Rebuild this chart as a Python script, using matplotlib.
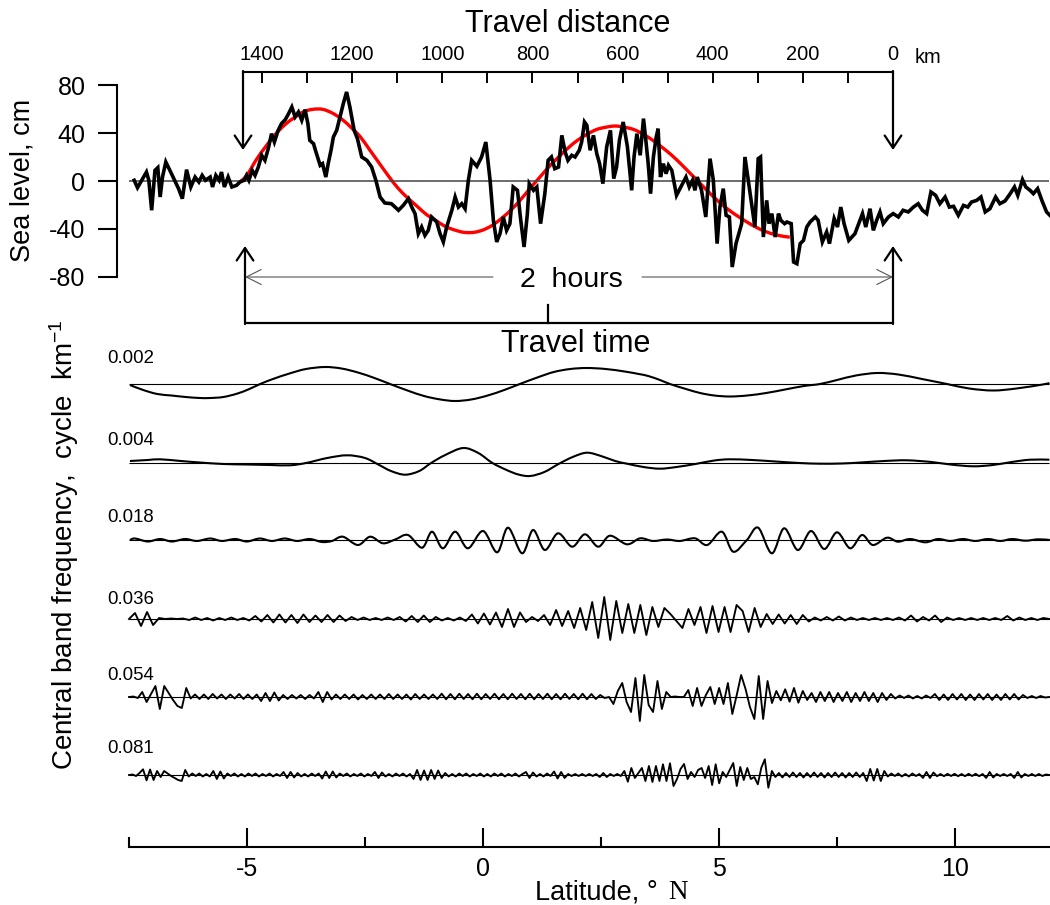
import numpy as np
import matplotlib
matplotlib.use("Agg")
import matplotlib.pyplot as plt
from matplotlib.path import Path
from matplotlib.patches import PathPatch

plt.rcParams['font.family'] = 'Liberation Sans'
plt.rcParams['axes.unicode_minus'] = False
plt.rcParams['mathtext.fontset'] = 'custom'
plt.rcParams['mathtext.rm'] = 'Liberation Sans'
plt.rcParams['mathtext.it'] = 'Liberation Sans:italic'

# ---- sea level along the track (latitude, cm) ----
sea_lat = [-7.39, -7.32, -7.23, -7.13, -7.08, -7.02, -6.95, -6.89, -6.84, -6.79, -6.72, -6.60, -6.45, -6.37,
           -6.28, -6.19, -6.10, -6.02, -5.95, -5.88, -5.78, -5.73, -5.66, -5.59, -5.54, -5.48, -5.40, -5.32,
           -5.22, -5.15, -5.06, -5.01, -4.96, -4.89, -4.83, -4.76, -4.69, -4.62, -4.55, -4.48, -4.42, -4.34,
           -4.27, -4.19, -4.12, -4.05, -3.98, -3.91, -3.84, -3.77, -3.71, -3.67, -3.59, -3.55, -3.45, -3.40,
           -3.33, -3.28, -3.22, -3.17, -3.10, -3.03, -2.96, -2.89, -2.82, -2.73, -2.66, -2.57, -2.46, -2.36,
           -2.27, -2.18, -2.08, -1.94, -1.79, -1.69, -1.58, -1.51, -1.44, -1.37, -1.30, -1.23, -1.16, -1.09,
           -0.98, -0.91,
           -0.84, -0.77, -0.66, -0.59, -0.52, -0.45, -0.38, -0.31, -0.24, -0.13, -0.03, 0.06, 0.15, 0.22,
           0.29, 0.36, 0.43, 0.50, 0.57, 0.64, 0.73, 0.80, 0.87, 0.94, 0.98, 1.07, 1.14, 1.22, 1.31, 1.38,
           1.45, 1.52, 1.60, 1.67, 1.74, 1.80, 1.88, 1.95, 2.04, 2.09, 2.15, 2.20, 2.27, 2.34, 2.41, 2.47,
           2.54, 2.62, 2.70, 2.77, 2.83, 2.89, 2.97, 3.06, 3.15, 3.20, 3.26, 3.33, 3.40, 3.45, 3.50, 3.55,
           3.61, 3.67, 3.71, 3.76, 3.82, 3.88, 3.93, 4.00, 4.10, 4.21, 4.30, 4.37, 4.44, 4.49, 4.54, 4.63,
           4.72, 4.81, 4.88, 4.96, 5.02, 5.09, 5.15, 5.22, 5.28, 5.36, 5.48, 5.55, 5.66,
           5.76, 5.83, 5.88, 5.94, 6.01, 6.06, 6.12, 6.19, 6.26, 6.31, 6.39, 6.44, 6.53, 6.58, 6.65, 6.72,
           6.79, 6.86, 6.93, 7.04, 7.10, 7.19, 7.28, 7.34, 7.44, 7.51, 7.58, 7.65, 7.75, 7.88, 8.04, 8.11,
           8.20, 8.27, 8.34, 8.41, 8.48, 8.59, 8.69, 8.80, 8.90, 9.01, 9.12, 9.22, 9.31, 9.40, 9.49, 9.59,
           9.68, 9.79, 9.88, 9.97, 10.07, 10.18, 10.27, 10.35, 10.46, 10.55, 10.64, 10.74, 10.86, 10.95,
           11.06, 11.17, 11.26, 11.33, 11.43, 11.50, 11.59, 11.66, 11.75, 11.84, 11.94, 12.01]
sea_cm = [0.6, -5.6, 0.6, 7.5, 0.6, -24.5, 8.9, 11.2, -13.4, 3.3, 15.9, 6.1, -6.4, -14.8,
          9.5, -5.0, 3.3, -0.8, 4.7, 0.6, 3.3, -5.0, 4.7, 0.6, 7.5, -5.0, 3.3, -5.0,
          -3.6, -0.8, 0.6, 4.7, 0.6, 8.9, 4.7, 11.7, 21.5, 17.3, 27.1, 39.6, 32.6, 42.4,
          48.0, 51.3, 56.3, 61.9, 53.6, 57.7, 50.8, 59.7, 48.0, 34.0, 31.2, 25.7, 13.1, 14.5,
          3.3, 14.5, 25.7, 36.8, 42.4, 53.6, 64.7, 74.5, 61.9, 42.4, 35.4, 20.1, 17.3, 11.7,
          0.6, -13.4, -18.4, -19.0, -24.5, -20.4, -14.8, -21.8, -27.3, -44.1, -38.5, -45.5, -41.3, -30.1,
          -34.3, -44.1,
          -51.0, -38.5, -24.5, -13.4, -21.8, -19.0, -23.2, 0.6, 17.3, 12.3, 20.1, 32.6, 0.6, -32.9,
          -51.0, -44.1, -30.1, -41.3, -35.7, -5.0, -7.8, -32.9, -55.2, -27.3, -2.2, -7.8, -5.0, -35.7, -10.6, 17.3,
          20.1, 10.3, 11.7, 38.2, 24.3, 17.3, 21.5, 20.1, 25.7, 32.6, 49.4, 46.6, 25.7, 38.2, 22.9, 14.5,
          -2.2, 28.5, 42.4, 2.0, 11.7, 34.0, 49.4, 28.5, -7.8, 20.1, 39.6, 21.5, 52.2, 34.0, 14.5, -10.6,
          20.1, 36.8, 43.8, 3.3, 14.5, 6.1, 13.1, 8.9, -12.0, -3.6, 3.3, -5.0, 0.6, -7.8, 3.3, -7.8,
          -30.1, 18.7, 0.6, -52.4, -21.8, -6.4, -28.7, -30.1, -72.0, -52.4, -35.7, 20.1, -10.6,
          -38.5, 18.7, 20.1, -46.9, -16.2, -35.7, -27.3, -46.9, -27.3, -32.9, -35.7, -34.3, -35.7, -67.8, -69.2, -52.4,
          -49.7, -38.5, -34.3, -30.1, -32.9, -51.0, -42.7, -52.4, -31.5, -38.5, -21.8, -35.7, -49.7, -44.1, -27.3, -38.5,
          -23.2, -41.3, -32.9, -25.9, -35.7, -30.1, -27.3, -30.1, -24.5, -25.9, -21.8, -19.0, -24.5, -27.3, -9.2, -12.0,
          -19.0, -13.4, -21.8, -21.2, -28.7, -20.4, -21.8, -17.6, -16.2, -13.4, -25.9, -23.2, -13.4, -19.0,
          -16.7, -10.6, -5.0, -12.0, 1.1, -5.0, -7.8, -10.6, -6.4, -16.2, -25.9, -28.7]

# fitted wave (red)
fit_lat = [-5.18, -5.0, -4.8, -4.6, -4.4, -4.2, -4.0, -3.8, -3.6, -3.4, -3.2, -3.0, -2.8, -2.6, -2.4,
           -2.2, -2.0, -1.8, -1.6, -1.4, -1.2, -1.0, -0.8, -0.6, -0.4, -0.2, 0.0, 0.2, 0.4, 0.6,
           0.8, 1.0, 1.2, 1.4, 1.6, 1.8, 2.0, 2.2, 2.4, 2.6, 2.8, 3.0, 3.2, 3.4, 3.6,
           3.8, 4.0, 4.2, 4.4, 4.6, 4.8, 5.0, 5.2, 5.4, 5.6, 5.8, 6.0, 6.2, 6.4, 6.5]
fit_cm = [-2, 5, 18, 29, 39, 47, 53, 58, 60, 60, 57, 52, 45, 37, 26,
          15, 4, -6, -14, -21, -28, -33, -38, -41, -43, -43, -41, -37, -31, -24,
          -15.5, -6, 3, 12, 20, 27.5, 34, 39, 43, 45, 46, 45, 43, 39, 34,
          28, 21.5, 14, 6, -2, -10, -17.5, -24, -29.5, -34.5, -39, -42.5, -45, -46.5, -47]

# ---- band-pass components (relative amplitude) ----
band_names = ["0.002", "0.004", "0.018", "0.036", "0.054", "0.081"]

lat_002 = [-7.48, -7.2, -6.9, -6.6, -6.3, -6.0, -5.78, -5.5, -5.2, -4.95, -4.72, -4.45, -4.1, -3.75, -3.35,
           -3.0, -2.65, -2.3, -1.97, -1.6, -1.25, -0.9, -0.59, -0.25, 0.1, 0.45, 0.78, 1.15, 1.5, 1.85,
           2.2, 2.6, 3.0, 3.3, 3.5, 3.75, 3.96, 4.3, 4.6, 4.9, 5.23, 5.6, 6.0, 6.4, 6.8,
           7.14, 7.5, 7.9, 8.35, 8.8, 9.3, 9.83, 10.3, 10.81, 11.3, 11.86, 12.0]
amp_002 = [-1, -6, -10, -11.5, -13, -14, -14, -13, -9.5, -5, 0, 5, 10.5, 15, 17,
           15.5, 11.5, 6, 0, -6.5, -12, -15.5, -17, -15.5, -11.5, -6, 0, 6.5, 12, 15,
           16, 15, 12.5, 10, 8, 4, 0, -5, -9, -11.5, -12.5, -11.5, -9, -5.5, -2,
           0, 4, 8.5, 11, 9.5, 5, 0, -4.5, -6.5, -4.5, -0.5, 1]

lat_004 = [-7.48, -7.1, -6.84, -6.4, -6.0, -5.5, -5.0, -4.5, -4.09, -3.75, -3.3, -2.88, -2.5, -2.2, -1.95,
           -1.65, -1.35, -1.1, -0.8, -0.42, -0.1, 0.2, 0.5, 0.75, 1.0, 1.3, 1.6, 1.9, 2.2, 2.5,
           2.8, 3.05, 3.4, 3.75, 4.1, 4.5, 4.9, 5.23, 5.7, 6.2, 6.7, 7.14, 7.6, 8.0, 8.5,
           8.98, 9.5, 9.9, 10.38, 10.8, 11.2, 11.59, 12.0]
amp_004 = [2, 3, 3.7, 2, 0.5, -1, -1.5, -2, -2.3, 0, 5, 7.7, 5, -2, -8,
           -11.7, -8, 0, 8, 15, 10, 0, -7, -11.5, -13, -9, -1, 6, 10.3, 7,
           2, -0.7, -4, -5.7, -4, -1, 2.5, 3.7, 3, 1.5, 0, -0.7, -0.5, 0.5, 2,
           2.7, 1, -1.5, -3.3, -2, 1, 3.3, 3.3]

lat_018 = [-7.48, -7.37, -7.10, -6.84, -6.59, -6.31, -6.06, -5.78, -5.53, -5.25, -5.00, -4.73, -4.47,
           -4.20, -3.94, -3.67, -3.41, -3.20, -2.97, -2.65, -2.39, -2.12, -1.86, -1.59, -1.29, -1.08,
           -0.85, -0.59, -0.32, 0.00, 0.30, 0.53, 0.83, 1.06, 1.31, 1.59, 1.89, 2.16, 2.44, 2.69,
           3.05, 3.33, 3.60, 3.90, 4.17, 4.49, 4.75, 5.06, 5.30, 5.59, 5.83, 6.12, 6.38, 6.67,
           6.95, 7.23, 7.50, 7.78, 8.03, 8.26, 8.56, 8.79, 9.05, 9.37, 9.64, 9.90, 10.17, 10.43,
           10.70, 10.96, 11.21, 11.49, 11.76, 12.01]
amp_018 = [0, 1.5, -1.5, 1, -1.5, 1, -1, 1.5, -1, 1, -1.5, 1.5, -1,
           1.5, -1, 1, -2, -1, 3.3, -5, 3.3, -3.3, 0.5, 5, -7.7, 8.3,
           -8.3, 8.3, -8.3, 9, -12.3, 12.3, -13.3, 10, -10, 6.7, -6.7, 5.7, -6.7, 4.3,
           -4.3, 1.7, -1, 0.5, -1, 1.7, -5, 8.3, -11.7, 0, 12.3, -13.3, 11.7, -10,
           9, -9, 7.7, -8.3, 5, -5, 2.3, -1.7, 1, -2.3, 1, -1, 1, -1,
           1, -1, 1, -0.7, 0.7, 0]

# equally spaced samples from -7.5 to 12 N
amp_036 = [0, 6, -7, 7, -6, 1, 0, 0.5, 0, 0.5,
           -1, 1.5, -1, 1, -1.5, 1, -1, 1.5, -1, 1,
           -1.5, 3, -2.5, 4, -3.5, 4.5, -3.5, 4, -4, 4.5,
           -3, 3.5, -3, 4, -3, 3.5, -2, 2, -1, 1.5,
           -1, 1, -1, 1.5, -1, 2, -2.5, 3, -3, 3.5,
           -3, 2, -1.5, 1, -1.5, 1.5, -2, 4.5, -4.5, 5.5,
           -5.5, 6.5, -8, 10, -8, 6.5, -3, 2, -2, 4,
           -6, 9, -7, 8, -9, 11, -11, 17, -19, 22,
           -21, 18, -14, 15, -14, 14, -16, 12, -8, 11,
           5, -2, -9, 10, -6, 12, -14, 13, -13, 12,
           -13, 14, 8, -13, 11, -8, 5, -5, 4.5, -4.5,
           4, -5, 4, -2.5, 1.5, -1.5, 2, -1.5, 2.5, -1.5,
           1.5, -1, 1, -1, 1, -1, 1, -1, 1.5, -1.5,
           3.5, -2.5, 2, -1.5, 3.5, -3, 1.5, -1, 1, -1,
           1, -1, 1, -1, 1, -1, 3, -1.5, 1.5, -1,
           1, -1, 1, 0]

amp_054 = [0, 0.5, -1, 5, -5, 3, 11, -12, 11, 4, -3, -9, -11, 9,
           -1.5, 2.5, -2, 2.5, -2, 3, -1.5, 2.5, -2, 2.5, -1.5, 3, -2, 2.5, -2, 2.5,
           -4, 4, -4, 4.5, -3.5,
           2, -2, 2, -1.5, 2, -2, 2, -1.5,
           5, -5, 5,
           -2.5, 2.5, -2, 2.5, -2, 2.5, -2.5, 2, -2, 2.5, -2, 2.5, -2, 3, -2, 2.5, -2, 2.5, -2.5, 3,
           -2, 2.5, -2, 2.5, -2,
           3.3, -2.3, 3, -2.3, 3.3, -2, 3, -2.3, 3.3, -2.3, 3, -2, 3.3, -2.3, 3, -2.3, 3.3, -2, 3, -2.3,
           3.3, -2.3, 3, -2, 3.3, -2.3, 3, -2.3, 3.3, -2, 3, -2.3, 3.3, -2.3, 3, -2, 2, -1,
           0,
           -7, 6, 14, -5, -15, 19, -24, 22, -8, -15, 16, -12, 5,
           0, 0.5, 0, 0,
           7, -9, 9, -9, 2, 10, -7, 9, -7, 14, -17, 2, 22, 8, -10, -22, 21, -22, 16, -6,
           6, -3.3, 7.7, -4.7, 9, -5.7, 6, -3,
           4, -5, 5, -4, 5, -5, 4, -4, 5, -5, 4, -4, 5, -4, 4, -5, 4, -3, 3,
           -1.5, 1.5, -1, 1.5, -1.5, 1, -1.5, 1.5, -1,
           3, -3, 2.5, -3, 3, -2.5, 3, -3, 2.5, -3, 3, -2.5, 3, -3, 2.5, -3, 3, -2.5, 3, -2.5, 2,
           -1, 1, -1, 1, -0.5, 0]

amp_081 = [0, 0.5, -1, 2, 5.7, -5.3, 5.5, -5, 4, -2, 4, 1.5, -1, -3, -5, -6, 5,
           -1.5, 1.5, -1, 1.5, -1.5, 1, -1.5,
           4, -4, 3.5, -3.5,
           1.5, -1, 1.5, -1.5, 1, -1.5, 1.5, -1, 1.5, -1.5, 1, -1, 1.5, -1.5, 1, -1,
           3, -3, 3, -2.5, 2,
           -1.5, 1, -1.5, 1.5, -1, 1.5,
           -3.5, 3.5, -3, 3.5, -2.5,
           1.5, -1, 1.5, -1.5, 1, -1, 1.5, -1.5, 1, -1,
           3, -3, 2.5,
           -1.5, 1, -1.5, 1.5, -1, 1.5, -1.5, 1,
           -4, 5, -5, 4.5, -5, 5, -4, 4.5, -3, 2,
           -1.5, 1, -1.5, 1.5, -1, 1.5, -1.5, 1, -1, 1.5, -1.5, 1, -1.5, 1.5, -1, 1.5, -1.5, 1, -1, 1.5,
           -1.5, 1,
           3, -3, 2.5,
           -1.5, 1, -1.5, 1.5, -1,
           3.5, -3.5, 3, -3,
           1, -1, 1, -1, 1, -1, 1, -1, 1,
           -2, 2, -2,
           1, -1, 1, -1,
           4, -6.7, 7, -3, 2, 7, -6, 9, -7, 9, -6, 10.7, -6, 11.7, -11, -4, 6, 11, -4, 3,
           -2, 5, 7, -3, 9, -10, 10.7, -8.3, 3, -2, 5, 12, -11, 8, -5, 7, -4, -2, -9.3, 7.3,
           15.7, -12.7, 4, -2,
           2, -2.5, 2, -2, 2.5, -2, 2, -2.5, 2, -2, 2.5, -2, 2, -2.5, 2, -2, 2.5, -2, 2, -2.5,
           2, -2, 2.5, -2, 2,
           -6, 6, -5.5, 6, -6, 4,
           -1.5, 1.5, -1, 1.5, -1.5, 1, -1.5, 1.5, -1, 1,
           -3, 3, -3, 2.5,
           -1.2, 1, -1.2, 1.2, -1, 1.2, -1.2, 1, -1.2, 1.2, -1, 1.2, -1.2, 1,
           -3, 3, -2.5,
           1, -1, 1, -1, 1,
           -3, 3, -2.5,
           1, -1, 1, -1, 1, -1, 0.5, 0]

lat_ticks = [-5, 0, 5, 10]
lat_minor = [-7.5, -2.5, 2.5, 7.5]
sea_ticks = [-80, -40, 0, 40, 80]
km_ticks = [0, 200, 400, 600, 800, 1000, 1200, 1400]
km_minor = [100, 300, 500, 700, 900, 1100, 1300]

# ---- layout (pixels of the 1050x905 picture) ----
W, H = 1050, 905
LAT0_PX, PX_PER_DEG = 483.0, 47.2
ZERO_PX, PX_PER_CM = 181.0, 1.195
X0 = -LAT0_PX / PX_PER_DEG
X1 = (W - LAT0_PX) / PX_PER_DEG
band_base = [384, 463, 540, 619, 697, 775]
label_base = [363, 445, 522, 604, 680, 753]
LW = 1.5


def smooth_path(x, y):
    pts = np.column_stack([x, y]).astype(float)
    verts = [pts[0]]
    codes = [Path.MOVETO]
    for i in range(len(pts) - 1):
        p0 = pts[i - 1] if i > 0 else pts[i]
        p1, p2 = pts[i], pts[i + 1]
        p3 = pts[i + 2] if i + 2 < len(pts) else pts[i + 1]
        verts += [p1 + (p2 - p0) / 6.0, p2 - (p3 - p1) / 6.0, p2]
        codes += [Path.CURVE4] * 3
    return Path(verts, codes)


fig = plt.figure(figsize=(W / 100, H / 100), dpi=100)

# top panel: sea level
ax = fig.add_axes([0, 0, 1, 1])
ax.patch.set_visible(False)
ax.set_xlim(X0, X1)
ax.set_ylim((ZERO_PX - H) / PX_PER_CM, ZERO_PX / PX_PER_CM)
for s in ['top', 'right', 'bottom']:
    ax.spines[s].set_visible(False)
ax.spines['left'].set_position(('data', (117 - LAT0_PX) / PX_PER_DEG))
ax.spines['left'].set_bounds(-80, 80)
ax.spines['left'].set_linewidth(1.5)
ax.set_xticks([])
ax.set_yticks(sea_ticks)
ax.set_yticklabels([str(t) for t in sea_ticks])
ax.tick_params(axis='y', direction='out', length=13.7, width=1.5, labelsize=18, pad=9)
ax.hlines(0, -7.5, 12, color='#444444', lw=1.1)
ax.add_patch(PathPatch(smooth_path(fit_lat, fit_cm), fc='none', ec='#ff0000', lw=2.4))
ax.plot(sea_lat, sea_cm, color='black', lw=2.6, solid_joinstyle='miter')

# travel distance axis
hd = 0.02
axd = fig.add_axes([243 / W, 1 - 72 / H - hd, 650 / W, hd])
axd.patch.set_visible(False)
for s in ['bottom', 'left', 'right']:
    axd.spines[s].set_visible(False)
axd.spines['top'].set_linewidth(1.5)
axd.set_xlim((893 - 243) / 0.4507, 0)
axd.set_yticks([])
axd.xaxis.tick_top()
axd.set_xticks(km_ticks)
axd.set_xticklabels([str(t) for t in km_ticks])
axd.set_xticks(km_minor, minor=True)
axd.tick_params(axis='x', which='both', direction='in', length=8, width=1.4, labelsize=14.4, pad=6)

# band-pass panels
bands = [(lat_002, amp_002, True), (lat_004, amp_004, True), (lat_018, amp_018, True),
         (None, amp_036, False), (None, amp_054, False), (None, amp_081, False)]
for (lat, amp, smooth), base in zip(bands, band_base):
    axb = fig.add_axes([0, 1 - (base + 35) / H, 1, 70 / H])
    axb.patch.set_visible(False)
    axb.axis('off')
    axb.set_xlim(X0, X1)
    axb.set_ylim(-35, 35)
    axb.hlines(0, -7.5, 12, color='black', lw=0.8)
    if lat is None:
        lat = np.linspace(-7.5, 12.0, len(amp))
    if smooth:
        axb.add_patch(PathPatch(smooth_path(lat, amp), fc='none', ec='black', lw=LW))
    else:
        axb.plot(lat, amp, color='black', lw=LW * 0.9)

# latitude axis
axl = fig.add_axes([0, 1 - 847 / H, 1, 0.05])
axl.patch.set_visible(False)
for s in ['top', 'left', 'right']:
    axl.spines[s].set_visible(False)
axl.spines['bottom'].set_bounds(-7.5, 12)
axl.spines['bottom'].set_linewidth(1.5)
axl.set_xlim(X0, X1)
axl.set_yticks([])
axl.set_xticks(lat_ticks)
axl.set_xticklabels([str(t) for t in lat_ticks])
axl.set_xticks(lat_minor, minor=True)
axl.tick_params(axis='x', which='major', direction='in', length=13.7, width=1.5, labelsize=18, pad=7)
axl.tick_params(axis='x', which='minor', direction='in', length=7.2, width=1.5)

# annotations in picture pixels
ov = fig.add_axes([0, 0, 1, 1])
ov.patch.set_visible(False)
ov.axis('off')
ov.set_xlim(0, W)
ov.set_ylim(H, 0)

thick = dict(arrowstyle='->,head_length=0.45,head_width=0.3', lw=1.6, color='black',
             shrinkA=0, shrinkB=0, mutation_scale=20)
thin = dict(arrowstyle='->,head_length=0.6,head_width=0.3', lw=0.8, color='#555555',
            shrinkA=0, shrinkB=0, mutation_scale=18)
ov.annotate('', xy=(243, 150), xytext=(243, 71), arrowprops=thick)
ov.annotate('', xy=(893, 150), xytext=(893, 71), arrowprops=thick)
ov.annotate('', xy=(245, 246), xytext=(245, 324), arrowprops=thick)
ov.annotate('', xy=(893, 246), xytext=(893, 324), arrowprops=thick)
ov.plot([244, 894], [323, 323], color='black', lw=1.6, solid_capstyle='butt')
ov.plot([548, 548], [323, 305], color='black', lw=1.6)
ov.annotate('', xy=(245, 277), xytext=(493, 277), arrowprops=thin)
ov.annotate('', xy=(893, 277), xytext=(642, 277), arrowprops=thin)

ov.text(568, 32, 'Travel distance', fontsize=22, ha='center', va='baseline')
ov.text(915, 63, 'km', fontsize=14.4, ha='left', va='baseline')
ov.text(571, 287, '2  hours', fontsize=20.5, ha='center', va='baseline')
ov.text(576, 352, 'Travel time', fontsize=22, ha='center', va='baseline')
for name, yb in zip(band_names, label_base):
    ov.text(107, yb, name, fontsize=13.4, ha='left', va='baseline')
ov.text(23, 180, 'Sea level, cm', fontsize=19.5, rotation=90, ha='center', va='center')
ov.text(64, 545, 'Central band frequency,  cycle  km$^{-1}$', fontsize=20, rotation=90,
        ha='center', va='center')
ov.text(535, 899, 'Latitude, \u00b0', fontsize=19.5, ha='left', va='baseline')
ov.text(668, 899, 'N', fontsize=19.5, ha='left', va='baseline', family='Liberation Serif')

fig.savefig('out.png', dpi=100)
